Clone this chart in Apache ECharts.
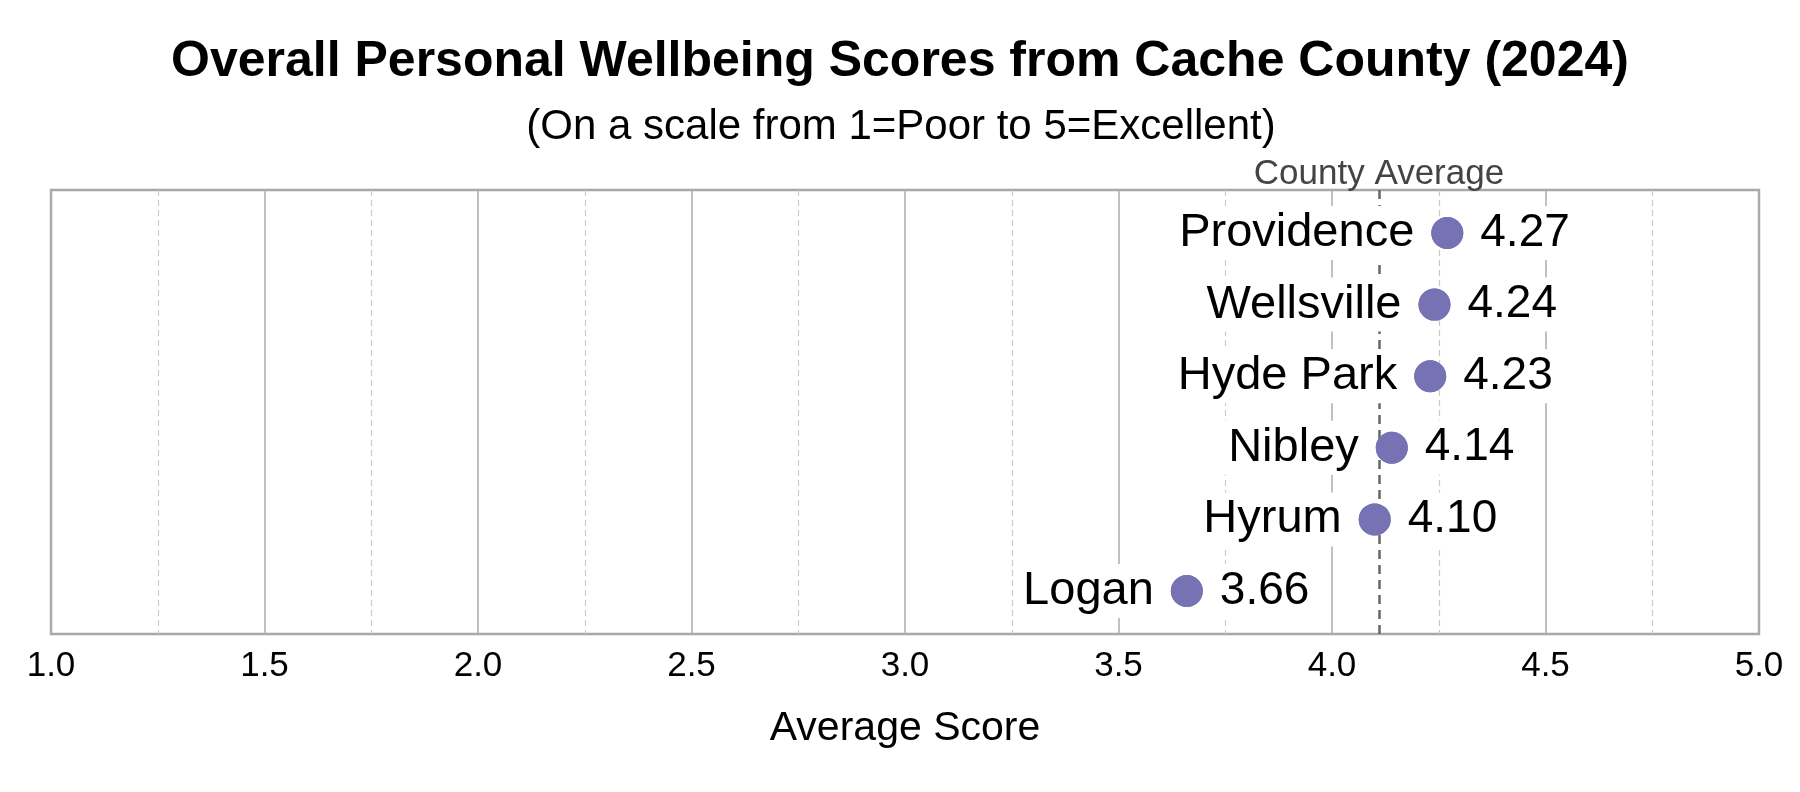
<!DOCTYPE html>
<html>
<head>
<meta charset="utf-8">
<script src="https://cdn.jsdelivr.net/npm/echarts@6/dist/echarts.min.js"></script>
<style>
html,body{margin:0;padding:0;background:#fff;}
#chart{width:1800px;height:792px;}
</style>
</head>
<body>
<div id="chart"></div>
<script>
// Data (bottom to top)
const places = ['Logan', 'Hyrum', 'Nibley', 'Hyde Park', 'Wellsville', 'Providence'];
const scores = [3.66, 4.10, 4.14, 4.23, 4.24, 4.27];
const countyAverage = 4.11;
const xTicks = [1.0, 1.5, 2.0, 2.5, 3.0, 3.5, 4.0, 4.5, 5.0];

const FONT = "'Liberation Sans', Arial, sans-serif";
const points = scores.map((s, i) => ({ value: [s, i], name: places[i] }));

const chart = echarts.init(document.getElementById('chart'), null, { renderer: 'canvas' });
chart.setOption({
  backgroundColor: '#ffffff',
  animation: false,
  title: [
    {
      text: 'Overall Personal Wellbeing Scores from Cache County (2024)',
      left: 895, top: 32, textAlign: 'center',
      textStyle: { fontFamily: FONT, fontSize: 50, fontWeight: 'bold', color: '#000' }
    },
    {
      text: '(On a scale from 1=Poor to 5=Excellent)',
      left: 896, top: 101, textAlign: 'center',
      textStyle: { fontFamily: FONT, fontSize: 42, fontWeight: 'normal', color: '#000' }
    }
  ],
  grid: {
    left: 51, right: 41, top: 190, bottom: 158,
    show: true, borderColor: '#a8a8a8', borderWidth: 2.5, backgroundColor: 'transparent'
  },
  xAxis: {
    type: 'value', min: 1, max: 5, interval: 0.5,
    name: 'Average Score', nameLocation: 'middle', nameGap: 74,
    nameTextStyle: { fontFamily: FONT, fontSize: 41, color: '#000' },
    axisLine: { show: false },
    axisTick: { show: false },
    axisLabel: {
      fontFamily: FONT, fontSize: 35, color: '#000', margin: 15,
      formatter: v => xTicks.indexOf(v) >= 0 ? v.toFixed(1) : ''
    },
    splitLine: { show: true, lineStyle: { color: '#adadad', width: 1.5, type: 'solid' } },
    minorTick: { show: false, splitNumber: 2 },
    minorSplitLine: { show: true, lineStyle: { color: '#c8c8c8', width: 1.2, type: [6, 4] } }
  },
  yAxis: {
    type: 'value', min: -0.6, max: 5.6, show: false,
    splitLine: { show: false }
  },
  series: [
    {
      type: 'scatter', z: 1, data: [], silent: true,
      markLine: {
        silent: true, symbol: 'none', z: 1,
        lineStyle: { color: '#666666', width: 2.5, type: [9, 6] },
        label: {
          show: true, position: 'end', distance: -2,
          formatter: 'County Average',
          fontFamily: FONT, fontSize: 35, color: '#444444'
        },
        data: [{ xAxis: countyAverage }]
      }
    },
    {
      type: 'scatter', z: 3, symbol: 'circle', symbolSize: 32,
      itemStyle: { color: '#7672b4', opacity: 1 },
      data: points,
      label: {
        show: true, position: 'left', distance: 11,
        formatter: p => p.name,
        fontFamily: FONT, fontSize: 47, color: '#000000',
        backgroundColor: '#ffffff', padding: [4, 6], lineHeight: 46
      }
    },
    {
      type: 'scatter', z: 3, symbol: 'circle', symbolSize: 32,
      itemStyle: { color: '#7672b4', opacity: 1 },
      data: points,
      label: {
        show: true, position: 'right', distance: 11,
        formatter: p => p.value[0].toFixed(2),
        fontFamily: FONT, fontSize: 46, color: '#000000',
        backgroundColor: '#ffffff', padding: [4, 6], lineHeight: 46
      }
    }
  ]
});
</script>
</body>
</html>
